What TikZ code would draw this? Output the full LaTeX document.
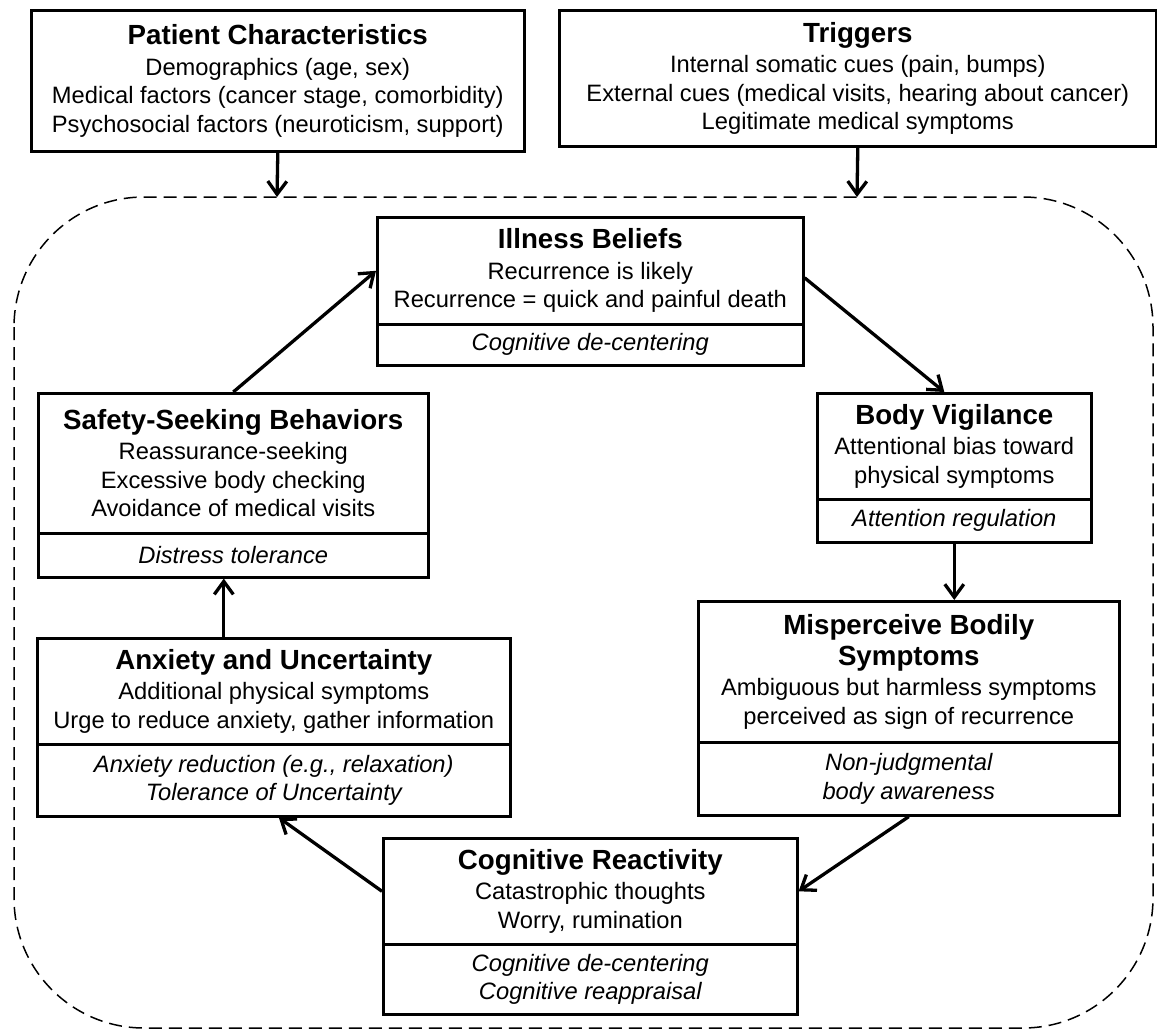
\documentclass[tikz,border=0pt]{standalone}
\usepackage{fontspec}
\setmainfont{Liberation Sans}
\usetikzlibrary{arrows.meta}
\newcommand\myBody{\fontsize{23.7}{28.5}\selectfont\mdseries}
\newcommand\myTitle{\fontsize{27.7}{30}\selectfont\bfseries}
\begin{document}
\begin{tikzpicture}[x=1pt,y=-1pt,
  box/.style={draw, line width=2.6pt, inner sep=0pt, align=center, anchor=north west, font=\myBody},
  mbox/.style={box, font=\myBody\itshape},
  arr/.style={line width=3.3pt, -{Straight Barb[length=13pt,width=19pt]}},
  region/.style={line width=1.5pt, dash pattern=on 13pt off 7pt, rounded corners=130pt}]
\useasboundingbox (0,0) rectangle (1157,1030);

% dashed region
\draw[region] (14,197) rectangle (1153,1028);
\coordinate (pin) at (277,197);
\coordinate (tin) at (857,197);

% top boxes
\node[box, minimum width=493pt, minimum height=141pt] (pc) at (30,9)
  {{\myTitle Patient Characteristics}\\[2pt]
   Demographics (age, sex)\\
   Medical factors (cancer stage, comorbidity)\\
   Psychosocial factors (neuroticism, support)};
\node[box, minimum width=597pt, minimum height=136pt] (tr) at (558,9)
  {{\myTitle Triggers}\\[2pt]
   Internal somatic cues (pain, bumps)\\
   External cues (medical visits, hearing about cancer)\\
   Legitimate medical symptoms};

% Illness beliefs
\node[box, minimum width=426pt, minimum height=107pt] (ib) at (376,216)
  {{\myTitle Illness Beliefs}\\[2pt]
   Recurrence is likely\\
   Recurrence = quick and painful death};
\node[mbox, minimum width=426pt, minimum height=41pt] (ibm) at (376,323)
  {Cognitive de-centering};

% Body vigilance
\node[box, minimum width=274pt, minimum height=106pt] (bv) at (816,392)
  {{\myTitle Body Vigilance}\\[2pt]
   Attentional bias toward\\
   physical symptoms};
\node[mbox, minimum width=274pt, minimum height=43pt] (bvm) at (816,498)
  {Attention regulation};

% Misperceive
\node[box, minimum width=421pt, minimum height=141pt] (mp) at (697,600)
  {\myTitle Misperceive Bodily\\[2pt]
   \myTitle Symptoms\\[2pt]
   \myBody Ambiguous but harmless symptoms\\
   perceived as sign of recurrence};
\node[mbox, minimum width=421pt, minimum height=73pt] (mpm) at (697,741)
  {Non-judgmental\\ body awareness};

% Cognitive reactivity
\node[box, minimum width=414pt, minimum height=106pt] (cr) at (382,837)
  {{\myTitle Cognitive Reactivity}\\[2pt]
   Catastrophic thoughts\\
   Worry, rumination};
\node[mbox, minimum width=414pt, minimum height=70pt] (crm) at (382,943)
  {Cognitive de-centering\\ Cognitive reappraisal};

% Anxiety
\node[box, minimum width=473pt, minimum height=106pt] (ax) at (36,637)
  {{\myTitle Anxiety and Uncertainty}\\[2pt]
   Additional physical symptoms\\
   Urge to reduce anxiety, gather information};
\node[mbox, minimum width=473pt, minimum height=72pt] (axm) at (36,743)
  {Anxiety reduction (e.g., relaxation)\\ Tolerance of Uncertainty};

% Safety seeking
\node[box, minimum width=390pt, minimum height=140pt] (ss) at (37,392)
  {{\myTitle Safety-Seeking Behaviors}\\[2pt]
   Reassurance-seeking\\
   Excessive body checking\\
   Avoidance of medical visits};
\node[mbox, minimum width=390pt, minimum height=44pt] (ssm) at (37,532)
  {Distress tolerance};

% connectors
\draw[arr] (pc.south) -- (pin);
\draw[arr] (tr.south) -- (tin);
\draw[arr] ([yshift=-7pt]ib.east) -- ([xshift=-10pt]bv.north);
\draw[arr] (bvm.south) -- (bvm.south |- mp.north);
\draw[arr] (mpm.south) -- (cr.east);
\draw[arr] (cr.west) -- ([xshift=5pt]axm.south);
\draw[arr] ([xshift=-50pt]ax.north) -- ([xshift=-50pt]ax.north |- ssm.south);
\draw[arr] (ss.north) -- (ib.west);
\end{tikzpicture}
\end{document}
